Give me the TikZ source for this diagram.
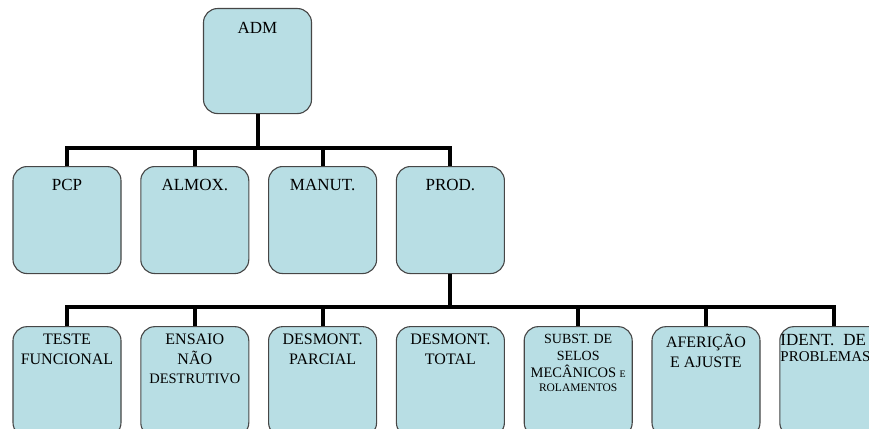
\documentclass[tikz,border=0pt]{standalone}
\usepackage{fontspec}
\setmainfont{Liberation Serif}
\usepackage{tikz}
\usetikzlibrary{positioning}
\definecolor{boxblue}{RGB}{184,222,228}
\definecolor{boxline}{RGB}{70,70,70}
\tikzstyle{unit} = [
    rectangle,
    rounded corners=14pt,
    draw=boxline,
    line width=1.1pt,
    fill=boxblue,
    minimum width=108pt,
    minimum height=107pt,
    inner sep=0pt
]
\tikzstyle{unittext} = [
    anchor=north,
    align=center,
    inner sep=0pt,
    font=\fontsize{17}{19.5}\selectfont,
    execute at begin node=\vphantom{Ã}
]
\tikzstyle{subtext} = [
    unittext,
    yshift=-8pt,
    font=\fontsize{16}{19.5}\selectfont
]
\tikzstyle{link} = [
    line width=4pt,
    draw=black
]

\begin{document}
\begin{tikzpicture}[x=1pt, y=-1pt]
    \useasboundingbox (0,0) rectangle (869,428);
    \clip (0,0) rectangle (869,428);

    % Top box
    \node[unit, minimum height=105pt, anchor=north,
          label={[unittext, yshift=-11pt]north:ADM}] (adm) at (257.5,8) {};

    % Departments
    \node[unit, anchor=north, label={[unittext, yshift=-10pt]north:PCP}] (pcp) at (67,166) {};
    \node[unit, right=18.7pt of pcp, label={[unittext, yshift=-10pt]north:ALMOX.}] (almox) {};
    \node[unit, right=18.7pt of almox, label={[unittext, yshift=-10pt]north:MANUT.}] (manut) {};
    \node[unit, right=18.7pt of manut, label={[unittext, yshift=-10pt]north:PROD.}] (prod) {};

    % Production steps
    \node[unit, minimum height=110pt, below=52pt of pcp,
          label={[subtext]north:TESTE\\FUNCIONAL}] (teste) {};
    \node[unit, minimum height=110pt, right=18.7pt of teste,
          label={[subtext]north:ENSAIO\\NÃO\\{\fontsize{14.5}{19.5}\selectfont DESTRUTIVO}}] (ensaio) {};
    \node[unit, minimum height=110pt, right=18.7pt of ensaio,
          label={[subtext]north:DESMONT.\\PARCIAL}] (parcial) {};
    \node[unit, minimum height=110pt, right=18.7pt of parcial,
          label={[subtext]north:DESMONT.\\TOTAL}] (total) {};
    \node[unit, minimum height=110pt, right=18.7pt of total,
          label={[subtext, font=\fontsize{14}{17}\selectfont]north:SUBST. DE\\SELOS\\{\fontsize{14.5}{17}\selectfont MECÂNICOS} {\fontsize{10}{12}\selectfont E}\\[-3pt]{\fontsize{11.5}{13}\selectfont ROLAMENTOS}}] (subst) {};
    \node[unit, minimum height=110pt, right=18.7pt of subst,
          label={[subtext]north:AFERIÇÃO\\E AJUSTE}] (afericao) {};
    \node[unit, minimum height=110pt, right=18.7pt of afericao,
          label={[subtext, anchor=north west, align=left, xshift=1pt,
                  font=\fontsize{17}{19.5}\selectfont]north west:IDENT.\hspace{9pt}DE\\[-3pt]{\fontsize{15}{19.5}\selectfont PROBLEMAS}}] (ident) {};

    % Bus points
    \coordinate[below=34pt of adm] (bus1);
    \coordinate[below=33pt of prod] (bus2);

    % Lines
    \draw[link] (adm) -- (bus1);
    \draw[link] (pcp.north) |- (bus1) -| (prod.north);
    \draw[link] (almox.north) -- (almox.north |- bus1);
    \draw[link] (manut.north) -- (manut.north |- bus1);

    \draw[link] (prod) -- (bus2);
    \draw[link] (teste.north) |- (bus2) -| (ident.north);
    \draw[link] (ensaio.north) -- (ensaio.north |- bus2);
    \draw[link] (parcial.north) -- (parcial.north |- bus2);
    \draw[link] (subst.north) -- (subst.north |- bus2);
    \draw[link] (afericao.north) -- (afericao.north |- bus2);
\end{tikzpicture}
\end{document}
